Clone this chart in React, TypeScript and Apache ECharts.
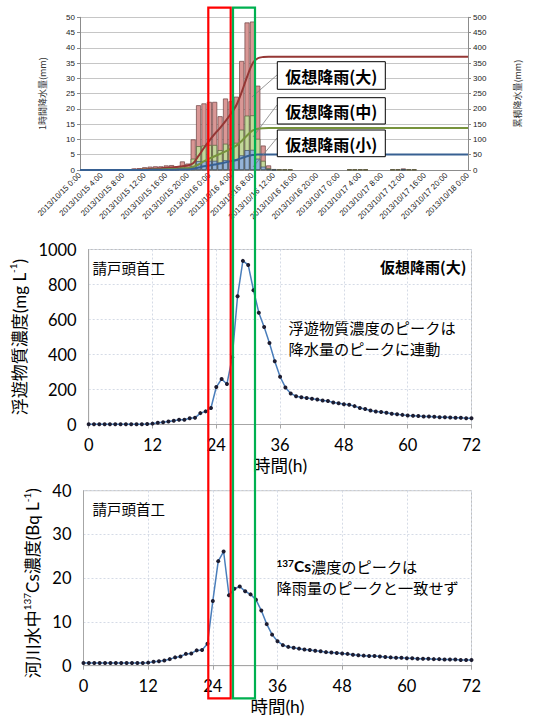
import React, { useEffect, useRef } from "react";
import * as echarts from "echarts";

// ---- top chart: hourly rainfall (mm) and cumulative rainfall (mm), hours 0..72 from 2013/10/15 0:00
const rainTickLabels = [
  "2013/10/15 0:00", "2013/10/15 4:00", "2013/10/15 8:00", "2013/10/15 12:00", "2013/10/15 16:00", "2013/10/15 20:00",
  "2013/10/16 0:00", "2013/10/16 4:00", "2013/10/16 8:00", "2013/10/16 12:00", "2013/10/16 16:00", "2013/10/16 20:00",
  "2013/10/17 0:00", "2013/10/17 4:00", "2013/10/17 8:00", "2013/10/17 12:00", "2013/10/17 16:00", "2013/10/17 20:00",
  "2013/10/18 0:00",
];
const hourlyLarge = [
  0, 0, 0, 0, 0, 0, 0, 0, 0, 0,
  0.5, 0.6, 0.9, 1.1, 1.2, 1.2, 1.5, 1.6, 1.2, 2.8,
  2.1, 10.0, 21.2, 21.8, 22.3, 22.3, 17.6, 23.4, 22.5, 24.0,
  35.7, 48.3, 48.6, 27.6, 8.0, 1.5, 0.3, 0.2, 0.2, 0.2,
  0, 0, 0, 0, 0, 0, 0, 0, 0, 0,
  0.2, 0.2, 0.2, 0.2, 0, 0, 0, 0, 0.2, 0.2,
  0.5, 0.2, 0.2, 0, 0, 0, 0, 0, 0, 0,
  0, 0, 0,
];
const hourlyMedium = [
  0, 0, 0, 0, 0, 0, 0, 0, 0, 0,
  0.2, 0.2, 0.3, 0.4, 0.45, 0.45, 0.55, 0.6, 0.45, 1.0,
  0.8, 3.7, 7.8, 8.0, 8.2, 8.2, 6.5, 8.6, 8.3, 8.9,
  13.2, 17.8, 17.9, 10.2, 3.0, 0.6, 0.1, 0.07, 0.07, 0.07,
  0, 0, 0, 0, 0, 0, 0, 0, 0, 0,
  0.07, 0.07, 0.07, 0.07, 0, 0, 0, 0, 0.07, 0.07,
  0.2, 0.07, 0.07, 0, 0, 0, 0, 0, 0, 0,
  0, 0, 0,
];
const hourlySmall = [
  0, 0, 0, 0, 0, 0, 0, 0, 0, 0,
  0.07, 0.08, 0.12, 0.15, 0.16, 0.16, 0.2, 0.22, 0.16, 0.38,
  0.28, 1.35, 2.9, 2.9, 3.0, 3.0, 2.4, 3.2, 3.0, 3.2,
  4.8, 6.5, 6.6, 3.7, 1.1, 0.2, 0.04, 0, 0, 0,
  0, 0, 0, 0, 0, 0, 0, 0, 0, 0,
  0, 0, 0, 0, 0, 0, 0, 0, 0, 0,
  0.07, 0, 0, 0, 0, 0, 0, 0, 0, 0,
  0, 0, 0,
];
const cumulativeLarge = [
  0, 0, 0, 0, 0, 0, 0, 0, 0, 0,
  0.5, 1.1, 2, 3.1, 4.3, 5.5, 7, 8.6, 9.8, 12.6,
  14.7, 22, 46, 72, 96, 118, 138, 160, 184, 212,
  255, 305, 348, 366, 370, 371, 371, 371, 371, 371,
  371, 371, 371, 371, 371, 371, 371, 371, 371, 371,
  371, 371, 371, 371, 371, 371, 371, 371, 371, 371,
  371, 371, 371, 371, 371, 371, 371, 371, 371, 371,
  371, 371, 371,
];
const cumulativeMedium = [
  0, 0, 0, 0, 0, 0, 0, 0, 0, 0,
  0.2, 0.4, 0.7, 1.1, 1.6, 2, 2.6, 3.2, 3.6, 4.6,
  5.4, 9, 18, 28, 37, 45, 53, 61, 70, 80,
  95, 113, 129, 135, 137, 137.5, 137.5, 137.5, 137.5, 137.5,
  137.5, 137.5, 137.5, 137.5, 137.5, 137.5, 137.5, 137.5, 137.5, 137.5,
  137.5, 137.5, 137.5, 137.5, 137.5, 137.5, 137.5, 137.5, 137.5, 137.5,
  137.5, 137.5, 137.5, 137.5, 137.5, 137.5, 137.5, 137.5, 137.5, 137.5,
  137.5, 137.5, 137.5,
];
const cumulativeSmall = [
  0, 0, 0, 0, 0, 0, 0, 0, 0, 0,
  0.07, 0.15, 0.27, 0.42, 0.58, 0.74, 0.94, 1.16, 1.3, 1.7,
  2.0, 4, 8, 12, 15, 18, 21, 25, 29, 33,
  39, 45, 49, 50.5, 51, 51, 51, 51, 51, 51,
  51, 51, 51, 51, 51, 51, 51, 51, 51, 51,
  51, 51, 51, 51, 51, 51, 51, 51, 51, 51,
  51, 51, 51, 51, 51, 51, 51, 51, 51, 51,
  51, 51, 51,
];

// ---- middle chart: suspended solids (mg L-1), hours 0..72
const suspendedSolids = [
  2, 2, 2, 2, 2, 2, 2, 2, 2, 2,
  2, 3, 5, 10, 13, 17, 21, 27, 27, 36,
  38, 65, 75, 94, 214, 260, 231, 384, 733, 935,
  912, 767, 639, 557, 466, 361, 273, 212, 177, 162,
  156, 151, 147, 143, 137, 134, 126, 122, 116, 113,
  105, 94, 88, 80, 74, 71, 67, 61, 59, 55,
  52, 50, 48, 46, 46, 44, 42, 42, 40, 38,
  38, 36, 36,
];

// ---- bottom chart: 137Cs in river water (Bq L-1), hours 0..72
const cesium137 = [
  0.6, 0.6, 0.6, 0.6, 0.6, 0.6, 0.6, 0.6, 0.6, 0.6,
  0.6, 0.6, 0.7, 0.9, 1.0, 1.2, 1.5, 1.9, 2.1, 2.7,
  2.8, 3.5, 3.6, 5.0, 14.8, 23.9, 26.1, 16.1, 17.6, 18.1,
  17.0, 16.3, 15.1, 12.6, 9.5, 7.1, 5.6, 4.7, 4.3, 4.1,
  3.9, 3.7, 3.6, 3.4, 3.3, 3.1, 3.0, 2.9, 2.8, 2.7,
  2.5, 2.4, 2.3, 2.2, 2.2, 2.1, 2.0, 1.9, 1.8, 1.8,
  1.7, 1.7, 1.6, 1.6, 1.6, 1.5, 1.5, 1.4, 1.4, 1.4,
  1.3, 1.3, 1.3,
];

const hours = hourlyLarge.map((_, i) => i);

const CJK = "'Noto Sans CJK JP', sans-serif";
const SMALLF = "'Liberation Sans', 'Noto Sans CJK JP', sans-serif";
const BIGF = "Lato, 'Noto Sans CJK JP', sans-serif";

export default function App() {
  const ref = useRef<HTMLDivElement>(null);
  useEffect(() => {
    const chart = echarts.init(ref.current!, null, { renderer: "svg" });
    const pairs = (arr: number[]) => hours.map((h) => [h, arr[h]]);
    const barPairs = (arr: number[]) => hours.filter((h) => arr[h] > 0).map((h) => [h, arr[h]]);
    const plain = (v: number) => String(v);

    const lowerX = (gi: number) => ({
      type: "value",
      gridIndex: gi,
      min: 0,
      max: 72,
      interval: 12,
      axisLine: { show: true, lineStyle: { color: "#a6a6a6" } },
      axisTick: { show: true, length: 4, lineStyle: { color: "#a6a6a6" } },
      axisLabel: { fontSize: 16.5, color: "#000", margin: 12, fontFamily: BIGF, formatter: plain },
      splitLine: { show: true, lineStyle: { color: "#d5dbe6", type: [2, 2] } },
      name: "時間(h)",
      nameLocation: "middle",
      nameGap: 32,
      nameTextStyle: { fontSize: 17.5, color: "#000", fontFamily: BIGF },
    });

    const titleRich = {
      a: { fontSize: 17, lineHeight: 22, fontFamily: BIGF, color: "#000" },
      s: { fontSize: 10, lineHeight: 22, verticalAlign: "top", fontFamily: BIGF, color: "#000", padding: [0, 0, 8, 0] },
    };

    const option: any = {
      animation: false,
      backgroundColor: "#fff",
      grid: [
        { left: 80, top: 17.3, width: 388, height: 152.7 },
        { left: 83.5, top: 249.5, width: 388, height: 175, show: true, borderColor: "#bfbfbf", borderWidth: 1 },
        { left: 83.5, top: 490.7, width: 388, height: 175, show: true, borderColor: "#bfbfbf", borderWidth: 1 },
      ],
      xAxis: [
        {
          type: "value",
          gridIndex: 0,
          min: 0,
          max: 72,
          interval: 4,
          axisLine: { show: true, lineStyle: { color: "#8c8c8c" } },
          axisTick: { show: false },
          splitLine: { show: false },
          axisLabel: {
            rotate: 45,
            fontSize: 8,
            color: "#222",
            margin: 4,
            fontFamily: SMALLF,
            formatter: (v: number) => rainTickLabels[Math.round(v / 4)] || "",
          },
        },
        lowerX(1),
        lowerX(2),
      ],
      yAxis: [
        {
          type: "value",
          gridIndex: 0,
          min: 0,
          max: 50,
          interval: 5,
          position: "left",
          axisLine: { show: true, lineStyle: { color: "#8c8c8c" } },
          axisTick: { show: true, length: 3, lineStyle: { color: "#8c8c8c" } },
          axisLabel: { fontSize: 8, color: "#222", margin: 5, fontFamily: SMALLF },
          splitLine: { show: true, lineStyle: { color: "#c6c6c6", width: 1 } },
          name: "1時間降水量(mm)",
          nameLocation: "middle",
          nameRotate: 90,
          nameGap: 33,
          nameTextStyle: { fontSize: 9, color: "#333", fontFamily: CJK },
        },
        {
          type: "value",
          gridIndex: 0,
          min: 0,
          max: 500,
          interval: 50,
          position: "right",
          axisLine: { show: true, lineStyle: { color: "#8c8c8c" } },
          axisTick: { show: true, length: 3, lineStyle: { color: "#8c8c8c" } },
          axisLabel: { fontSize: 8, color: "#222", margin: 5, fontFamily: SMALLF },
          splitLine: { show: false },
          name: "累積降水量(mm)",
          nameLocation: "middle",
          nameRotate: 90,
          nameGap: 45,
          nameTextStyle: { fontSize: 9, color: "#333", fontFamily: CJK },
        },
        {
          type: "value",
          gridIndex: 1,
          min: 0,
          max: 1000,
          interval: 200,
          axisLine: { show: true, lineStyle: { color: "#a6a6a6" } },
          axisTick: { show: false },
          axisLabel: { fontSize: 16.5, color: "#000", margin: 12, fontFamily: BIGF, formatter: plain },
          splitLine: { show: true, lineStyle: { color: "#d5dbe6", type: [2, 2] } },
          name: "{a|浮遊物質濃度(mg L}{s|-1}{a|)}",
          nameLocation: "middle",
          nameRotate: 90,
          nameGap: 54,
          nameTextStyle: { color: "#000", rich: titleRich },
        },
        {
          type: "value",
          gridIndex: 2,
          min: 0,
          max: 40,
          interval: 10,
          axisLine: { show: true, lineStyle: { color: "#a6a6a6" } },
          axisTick: { show: false },
          axisLabel: { fontSize: 16.5, color: "#000", margin: 12, fontFamily: BIGF, formatter: plain },
          splitLine: { show: true, lineStyle: { color: "#d5dbe6", type: [2, 2] } },
          name: "{a|河川水中}{s|137}{a|Cs濃度(Bq L}{s|-1}{a|)}",
          nameLocation: "middle",
          nameRotate: 90,
          nameGap: 35,
          nameTextStyle: { color: "#000", padding: [0, 10, 0, 0], rich: titleRich },
        },
      ],
      series: [
        {
          type: "bar", xAxisIndex: 0, yAxisIndex: 0, barWidth: 5, barGap: "-100%",
          data: barPairs(hourlyLarge),
          itemStyle: { color: "#d99795", borderColor: "#6b4040", borderWidth: 0.7 },
        },
        {
          type: "bar", xAxisIndex: 0, yAxisIndex: 0, barWidth: 5, barGap: "-100%",
          data: barPairs(hourlyMedium),
          itemStyle: { color: "#c4d79b", borderColor: "#55603a", borderWidth: 0.7 },
        },
        {
          type: "bar", xAxisIndex: 0, yAxisIndex: 0, barWidth: 5, barGap: "-100%",
          data: barPairs(hourlySmall),
          itemStyle: { color: "#95b3d7", borderColor: "#3c4d66", borderWidth: 0.7 },
        },
        {
          type: "line", xAxisIndex: 0, yAxisIndex: 1, smooth: 0.3, showSymbol: false, symbol: "none",
          data: pairs(cumulativeLarge), lineStyle: { color: "#953735", width: 2 }, z: 5,
        },
        {
          type: "line", xAxisIndex: 0, yAxisIndex: 1, smooth: 0.3, showSymbol: false, symbol: "none",
          data: pairs(cumulativeMedium), lineStyle: { color: "#77933c", width: 2 }, z: 5,
        },
        {
          type: "line", xAxisIndex: 0, yAxisIndex: 1, smooth: 0.3, showSymbol: false, symbol: "none",
          data: pairs(cumulativeSmall), lineStyle: { color: "#376092", width: 2 }, z: 5,
        },
        {
          type: "line", xAxisIndex: 1, yAxisIndex: 2, symbol: "circle", symbolSize: 4,
          data: pairs(suspendedSolids),
          lineStyle: { color: "#4a7ebb", width: 1.5 },
          itemStyle: { color: "#1c1c30", borderWidth: 0 },
        },
        {
          type: "line", xAxisIndex: 2, yAxisIndex: 3, symbol: "circle", symbolSize: 4,
          data: pairs(cesium137),
          lineStyle: { color: "#4a7ebb", width: 1.5 },
          itemStyle: { color: "#1c1c30", borderWidth: 0 },
        },
      ],
      graphic: [
        // leader lines
        { type: "line", z: 50, shape: { x1: 277, y1: 75, x2: 252, y2: 97 }, style: { stroke: "#7f7f7f", lineWidth: 0.8 } },
        { type: "line", z: 50, shape: { x1: 277, y1: 105, x2: 253, y2: 137 }, style: { stroke: "#7f7f7f", lineWidth: 0.8 } },
        { type: "line", z: 50, shape: { x1: 277, y1: 138, x2: 253, y2: 167 }, style: { stroke: "#7f7f7f", lineWidth: 0.8 } },
        // label boxes
        { type: "rect", z: 60, shape: { x: 277.3, y: 61.7, width: 108, height: 27.6 }, style: { fill: "#fff", stroke: "#000", lineWidth: 1 } },
        { type: "text", z: 61, style: { x: 331.3, y: 75.8, text: "仮想降雨(大)", align: "center", verticalAlign: "middle", fontSize: 16, fontWeight: "bold", fontFamily: CJK, fill: "#000" } },
        { type: "rect", z: 60, shape: { x: 277.3, y: 97.7, width: 108, height: 26.3 }, style: { fill: "#fff", stroke: "#000", lineWidth: 1 } },
        { type: "text", z: 61, style: { x: 331.3, y: 111.2, text: "仮想降雨(中)", align: "center", verticalAlign: "middle", fontSize: 16, fontWeight: "bold", fontFamily: CJK, fill: "#000" } },
        { type: "rect", z: 60, shape: { x: 277.3, y: 130, width: 108, height: 26.7 }, style: { fill: "#fff", stroke: "#000", lineWidth: 1 } },
        { type: "text", z: 61, style: { x: 331.3, y: 143.6, text: "仮想降雨(小)", align: "center", verticalAlign: "middle", fontSize: 16, fontWeight: "bold", fontFamily: CJK, fill: "#000" } },
        // middle chart annotations
        { type: "text", z: 61, style: { x: 92.6, y: 267, text: "請戸頭首工", verticalAlign: "middle", fontSize: 14.5, lineHeight: 17, fontFamily: CJK, fill: "#000" } },
        { type: "text", z: 61, style: { x: 466.4, y: 266, text: "仮想降雨(大)", align: "right", verticalAlign: "middle", fontSize: 15, lineHeight: 17, fontWeight: "bold", fontFamily: CJK, fill: "#000" } },
        { type: "text", z: 61, style: { x: 288.5, y: 326.5, text: "浮遊物質濃度のピークは", verticalAlign: "middle", fontSize: 15.2, lineHeight: 17, fontFamily: CJK, fill: "#000" } },
        { type: "text", z: 61, style: { x: 288.5, y: 348, text: "降水量のピークに連動", verticalAlign: "middle", fontSize: 15.2, lineHeight: 17, fontFamily: CJK, fill: "#000" } },
        // bottom chart annotations
        { type: "text", z: 61, style: { x: 92.6, y: 508.5, text: "請戸頭首工", verticalAlign: "middle", fontSize: 14.5, lineHeight: 17, fontFamily: CJK, fill: "#000" } },
        {
          type: "text", z: 61,
          style: {
            x: 276.5, y: 566, verticalAlign: "middle",
            text: "{s|137}{b|Cs}{a|濃度のピークは}",
            rich: {
              s: { fontSize: 10, lineHeight: 16, verticalAlign: "top", fontWeight: "bold", fontFamily: BIGF, fill: "#000", padding: [0, 0, 5, 0] },
              b: { fontSize: 15.5, lineHeight: 16, fontWeight: "bold", fontFamily: BIGF, fill: "#000" },
              a: { fontSize: 15.2, lineHeight: 16, fontFamily: CJK, fill: "#000" },
            },
          },
        },
        { type: "text", z: 61, style: { x: 276.5, y: 587, text: "降雨量のピークと一致せず", verticalAlign: "middle", fontSize: 15.2, lineHeight: 16, fontFamily: CJK, fill: "#000" } },
        // highlight frames
        { type: "rect", z: 70, shape: { x: 208.3, y: 7.7, width: 22.4, height: 690.6 }, style: { fill: "none", stroke: "#ff0000", lineWidth: 2.2 } },
        { type: "rect", z: 70, shape: { x: 233, y: 7.7, width: 22, height: 690.6 }, style: { fill: "none", stroke: "#00b050", lineWidth: 2.2 } },
      ],
    };
    chart.setOption(option);
    return () => chart.dispose();
  }, []);
  return (
    <div
      ref={ref}
      style={{ position: "absolute", left: 0, top: 0, width: 534, height: 720, background: "#fff" }}
    />
  );
}
